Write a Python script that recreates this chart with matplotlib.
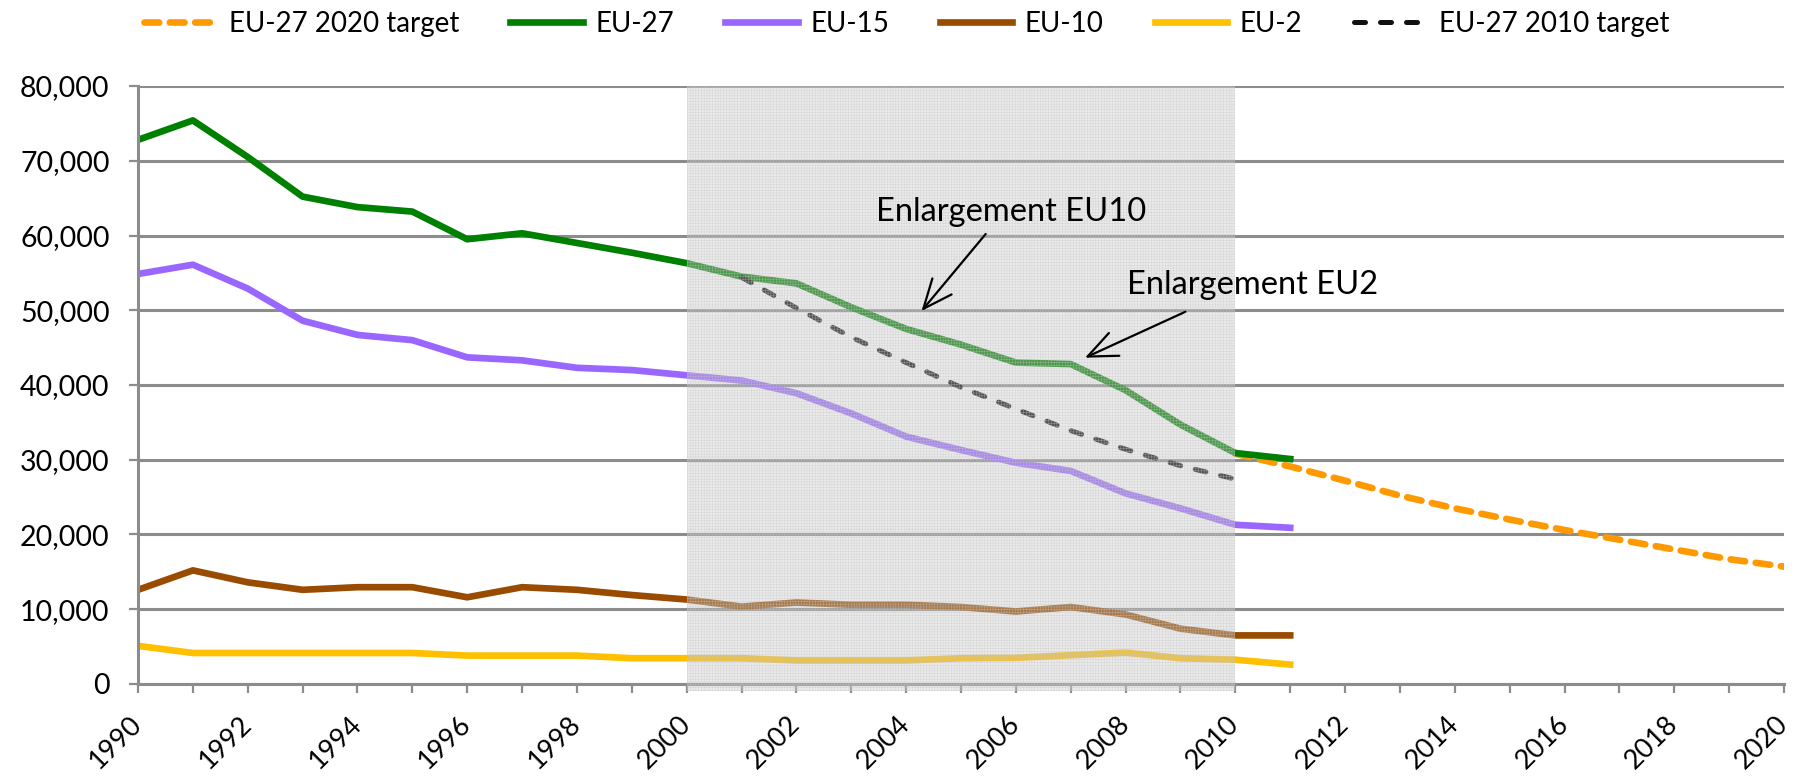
import matplotlib
matplotlib.use("Agg")
import matplotlib.pyplot as plt
from matplotlib.patches import Rectangle

plt.rcParams['font.family'] = ['Lato', 'DejaVu Sans']
plt.rcParams['hatch.linewidth'] = 0.4

years = list(range(1990, 2012))
eu27 = [72800, 75400, 70500, 65200, 63800, 63200, 59500, 60300, 59000, 57700, 56300,
        54500, 53600, 50400, 47500, 45400, 43000, 42800, 39300, 34700, 30900, 30100]
eu15 = [54850, 56100, 52900, 48600, 46700, 46000, 43700, 43300, 42300, 42000, 41300,
        40600, 38900, 36200, 33100, 31300, 29600, 28500, 25500, 23500, 21300, 20900]
eu10 = [12600, 15200, 13600, 12600, 12950, 12950, 11600, 12950, 12600, 11900, 11300,
        10350, 10900, 10600, 10600, 10300, 9700, 10300, 9300, 7400, 6500, 6500]
eu2 = [5100, 4150, 4150, 4150, 4150, 4150, 3800, 3800, 3800, 3450, 3450,
       3450, 3150, 3150, 3150, 3450, 3500, 3850, 4200, 3450, 3250, 2600]

target2010_years = list(range(2001, 2011))
target2010 = [54400, 50300, 46400, 43000, 39700, 36800, 33900, 31400, 29200, 27400]

target2020_years = list(range(2010, 2021))
target2020 = [30800, 29100, 27200, 25200, 23500, 22000, 20600, 19300, 18000, 16700, 15700]

fig = plt.figure(figsize=(18.02, 7.77), dpi=100)
ax = fig.add_axes([0.0766, 0.1197, 0.9134, 0.7696])

lw = 4.8
l_t20, = ax.plot(target2020_years, target2020, color='#ff9900', lw=lw, ls=(0, (2.2, 1.6)),
                 dash_capstyle='round', label='EU-27 2020 target', zorder=2)
l_27, = ax.plot(years, eu27, color='#008000', lw=lw, label='EU-27', zorder=2)
l_15, = ax.plot(years, eu15, color='#9966ff', lw=lw, label='EU-15', zorder=2)
l_10, = ax.plot(years, eu10, color='#994c00', lw=lw, label='EU-10', zorder=2)
l_2, = ax.plot(years, eu2, color='#ffc000', lw=lw, label='EU-2', zorder=2)
l_t10, = ax.plot(target2010_years, target2010, color='#111111', lw=3.6, ls=(0, (2.2, 3.0)),
                 dash_capstyle='round', label='EU-27 2010 target', zorder=2)

# shaded period 2000-2010, drawn over the lines
ax.add_patch(Rectangle((2000, -900), 10, 80900, facecolor='#c8c8c8', alpha=0.36,
                       edgecolor='none', zorder=3, clip_on=False))
ax.add_patch(Rectangle((2000, -900), 10, 80900, facecolor='none', edgecolor='#c4c4c4',
                       hatch='++++++', lw=0, alpha=0.55, zorder=3, clip_on=False))

ax.set_xlim(1990, 2020)
ax.set_ylim(0, 80000)
ax.set_yticks(range(0, 80001, 10000))
ax.set_yticklabels([f'{v:,}' for v in range(0, 80001, 10000)])
ax.set_xticks(range(1990, 2021))
ax.set_xticklabels([str(y) if y % 2 == 0 else '' for y in range(1990, 2021)],
                   rotation=45, ha='right', va='center', rotation_mode='anchor')
ax.grid(axis='y', color='#8c8c8c', lw=2.2, zorder=1)
ax.set_axisbelow(True)
for s in ['top', 'right']:
    ax.spines[s].set_visible(False)
for s in ['left', 'bottom']:
    ax.spines[s].set_color('#8c8c8c')
    ax.spines[s].set_linewidth(2.2)
ax.tick_params(axis='both', colors='#8c8c8c', width=1.6, length=6.5, labelcolor='black')
ax.tick_params(axis='x', pad=19.5, labelsize=19.5)
ax.tick_params(axis='y', pad=14, labelsize=20.5)

arrow = dict(arrowstyle='->, head_length=0.7, head_width=0.3', color='black', lw=1.6,
             mutation_scale=30, shrinkA=0, shrinkB=0)
ax.text(2005.91, 63100, 'Enlargement EU10', ha='center', va='center', fontsize=23.5, zorder=5)
ax.annotate('', xy=(2004.28, 49900), xytext=(2005.45, 60200), arrowprops=arrow, zorder=5)
ax.text(2010.32, 53400, 'Enlargement EU2', ha='center', va='center', fontsize=23.5, zorder=5)
ax.annotate('', xy=(2007.26, 43650), xytext=(2009.09, 49800), arrowprops=arrow, zorder=5)

fig.legend(handles=[l_t20, l_27, l_15, l_10, l_2, l_t10], loc='upper left',
           bbox_to_anchor=(0.066, 1.018), ncol=6, frameon=False, fontsize=20,
           handlelength=2.6, handletextpad=0.45, columnspacing=1.85)

fig.savefig('out.png', dpi=100)
